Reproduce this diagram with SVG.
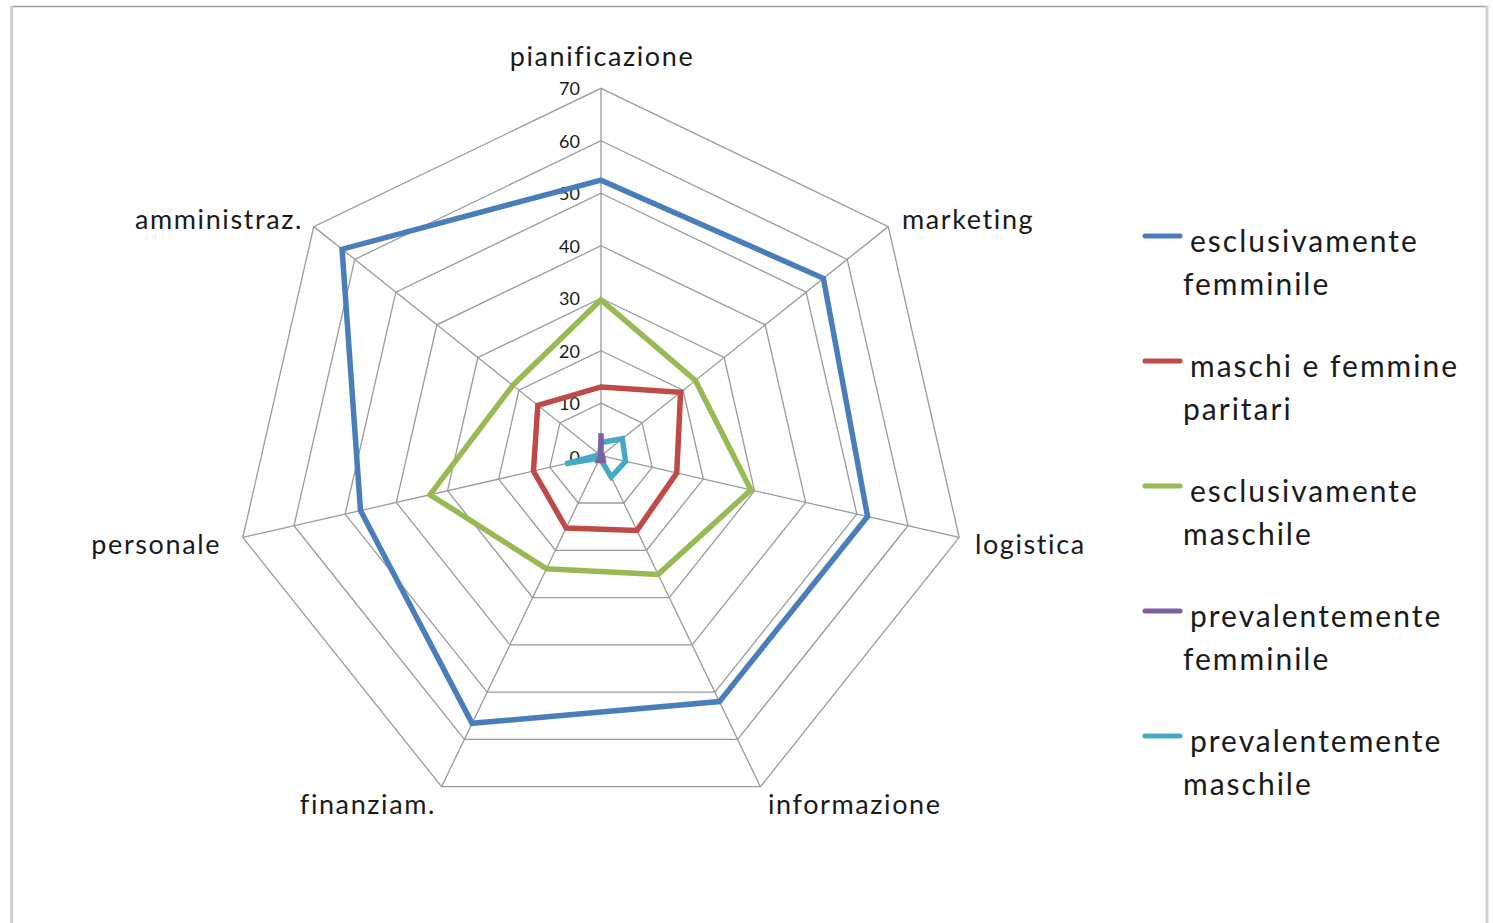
<svg xmlns="http://www.w3.org/2000/svg" width="1493" height="923" viewBox="0 0 1493 923">
<style>
.bg{fill:#ffffff}
.grid{fill:none;stroke:#9a9a9a;stroke-width:1.3}
.axis{stroke:#9a9a9a;stroke-width:1.3}
.series{fill:none;stroke-width:5.5;stroke-linejoin:miter;stroke-miterlimit:10}
.s1{stroke:#4a7ebb}
.s2{stroke:#be4b48}
.s3{stroke:#98b954}
.s4{stroke:#7d60a0}
.s5{stroke:#46aac5}
.cat{font-family:Lato,"Liberation Sans",sans-serif;font-size:27px;letter-spacing:1.6px;fill:#1a1a1a}
.tick{font-family:Lato,"Liberation Sans",sans-serif;font-size:18px;fill:#1a1a1a;text-anchor:end}
.leg{font-family:Lato,"Liberation Sans",sans-serif;font-size:30px;letter-spacing:2px;fill:#1a1a1a}
.legline{stroke-width:5;stroke-linecap:round}
</style>
<rect class="bg" x="0" y="0" width="1493" height="923"/>
<g id="frame">
<line x1="11" y1="6.5" x2="1488" y2="6.5" stroke="#a0a0a0" stroke-width="1.5"/>
<line x1="11.5" y1="6" x2="11.5" y2="923" stroke="#cfcfcf" stroke-width="3"/>
<line x1="1487" y1="6" x2="1487" y2="923" stroke="#d0d0d0" stroke-width="3"/>
</g>
<g id="grid">
<polygon class="grid" points="601,403.21 642.04,422.98 652.17,467.38 623.77,502.99 578.23,502.99 549.83,467.38 559.96,422.98"/>
<polygon class="grid" points="601,350.73 683.07,390.25 703.34,479.06 646.54,550.28 555.46,550.28 498.66,479.06 518.93,390.25"/>
<polygon class="grid" points="601,298.24 724.11,357.53 754.51,490.74 669.32,597.57 532.68,597.57 447.49,490.74 477.89,357.53"/>
<polygon class="grid" points="601,245.76 765.14,324.8 805.68,502.42 692.09,644.85 509.91,644.85 396.32,502.42 436.86,324.8"/>
<polygon class="grid" points="601,193.27 806.17,292.08 856.85,514.1 714.86,692.14 487.14,692.14 345.15,514.1 395.83,292.08"/>
<polygon class="grid" points="601,140.78 847.21,259.35 908.02,525.78 737.64,739.44 464.36,739.44 293.98,525.78 354.79,259.35"/>
<polygon class="grid" points="601,88.3 888.24,226.63 959.19,537.45 760.41,786.72 441.59,786.72 242.81,537.45 313.76,226.63"/>
<line class="axis" x1="601" y1="455.7" x2="601" y2="88.3"/>
<line class="axis" x1="601" y1="455.7" x2="888.24" y2="226.63"/>
<line class="axis" x1="601" y1="455.7" x2="959.19" y2="537.45"/>
<line class="axis" x1="601" y1="455.7" x2="760.41" y2="786.72"/>
<line class="axis" x1="601" y1="455.7" x2="441.59" y2="786.72"/>
<line class="axis" x1="601" y1="455.7" x2="242.81" y2="537.45"/>
<line class="axis" x1="601" y1="455.7" x2="313.76" y2="226.63"/>
</g>
<g id="ticks">
<text class="tick" x="580" y="95">70</text>
<text class="tick" x="580" y="147.5">60</text>
<text class="tick" x="580" y="200">50</text>
<text class="tick" x="580" y="252.5">40</text>
<text class="tick" x="580" y="305">30</text>
<text class="tick" x="580" y="357.5">20</text>
<text class="tick" x="580" y="410">10</text>
<text class="tick" x="580" y="464">0</text>
</g>
<g id="categories">
<text class="cat" x="602" y="66" text-anchor="middle">pianificazione</text>
<text class="cat" x="902" y="229">marketing</text>
<text class="cat" x="975" y="554">logistica</text>
<text class="cat" x="768" y="814">informazione</text>
<text class="cat" x="436" y="814" text-anchor="end">finanziam.</text>
<text class="cat" x="221" y="554" text-anchor="end">personale</text>
<text class="cat" x="303" y="229" text-anchor="end">amministraz.</text>
</g>
<g id="series">
<polygon id="esclusivamente-femminile" class="series s1" points="601,180.15 823.41,278.34 867.59,516.55 719.42,701.6 472.11,723.35 360.5,510.59 342.07,249.21"/>
<polygon id="maschi-e-femmine-paritari" class="series s2" points="601,386.94 680.61,392.22 676.73,472.99 636.98,530.42 566.16,528.05 533.46,471.12 537.81,405.3"/>
<polygon id="esclusivamente-maschile" class="series s3" points="601,299.82 695.38,380.43 750.93,489.92 658.16,574.39 546.57,568.72 430.09,494.71 512.78,385.34"/>
<polygon id="prevalentemente-maschile" class="series s5" points="601,442.58 622.34,438.68 625.55,461.3 611.2,477 599.86,458.06 565.18,463.88 599.77,454.72"/>
<polygon id="prevalentemente-femminile" class="series s4" points="601,433.13 601,455.7 602.53,456.05 603.28,460.43 598.72,460.43 601,455.7 601,455.7"/>
</g>
<g id="legend">
<g id="leg1"><line class="legline s1" x1="1145" y1="236" x2="1180" y2="236"/><text class="leg" x="1190" y="252">esclusivamente</text><text class="leg" x="1183" y="295">femminile</text></g>
<g id="leg2"><line class="legline s2" x1="1145" y1="361" x2="1180" y2="361"/><text class="leg" x="1190" y="377">maschi e femmine</text><text class="leg" x="1183" y="420">paritari</text></g>
<g id="leg3"><line class="legline s3" x1="1145" y1="486" x2="1180" y2="486"/><text class="leg" x="1190" y="502">esclusivamente</text><text class="leg" x="1183" y="545">maschile</text></g>
<g id="leg4"><line class="legline s4" x1="1145" y1="611" x2="1180" y2="611"/><text class="leg" x="1190" y="627">prevalentemente</text><text class="leg" x="1183" y="670">femminile</text></g>
<g id="leg5"><line class="legline s5" x1="1145" y1="736" x2="1180" y2="736"/><text class="leg" x="1190" y="752">prevalentemente</text><text class="leg" x="1183" y="795">maschile</text></g>
</g>
</svg>
